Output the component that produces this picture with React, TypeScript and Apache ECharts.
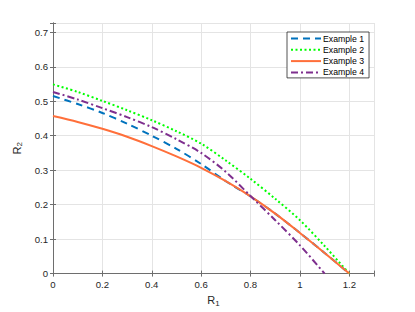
import React, { useEffect, useRef } from "react";
import * as echarts from "echarts";

const xValues = [0, 0.1, 0.2, 0.3, 0.4, 0.5, 0.6, 0.7, 0.8, 0.9, 1.0, 1.1, 1.2];
const example1 = [0.515, 0.492, 0.466, 0.435, 0.4, 0.362, 0.318, 0.268, 0.224, 0.174, 0.118, 0.06, 0];
const example2 = [0.549, 0.527, 0.501, 0.474, 0.445, 0.413, 0.377, 0.328, 0.275, 0.217, 0.155, 0.08, 0];
const example3 = [0.457, 0.44, 0.42, 0.397, 0.37, 0.34, 0.307, 0.268, 0.224, 0.174, 0.118, 0.06, 0];
const example4x = [0, 0.1, 0.2, 0.3, 0.4, 0.5, 0.6, 0.7, 0.8, 0.9, 1.0, 1.1];
const example4 = [0.527, 0.505, 0.48, 0.454, 0.425, 0.39, 0.35, 0.295, 0.225, 0.155, 0.082, 0];
const seriesNames = ["Example 1", "Example 2", "Example 3", "Example 4"];
const xTicks = { min: 0, max: 1.3, interval: 0.2 };
const yTicks = { min: 0, max: 0.727, interval: 0.1 };

const pairs = (xs: number[], ys: number[]) => xs.map((x, i) => [x, ys[i]]);

export default function App() {
  const ref = useRef<HTMLDivElement>(null);
  useEffect(() => {
    document.body.style.margin = "0";
    if (!ref.current) return;
    const chart = echarts.init(ref.current, null, { renderer: "svg" });
    const font = "'Liberation Sans', Arial, sans-serif";
    const axisColor = "#6e6e6e";
    const labelColor = "#262626";
    const yFmt = (v: number) =>
      Math.abs(v * 10 - Math.round(v * 10)) < 1e-6 ? String(Math.round(v * 10) / 10) : "";
    const xFmt = (v: number) =>
      Math.abs(v * 5 - Math.round(v * 5)) < 1e-6 ? String(Math.round(v * 10) / 10) : "";
    const nameRich = {
      a: { fontSize: 11, color: labelColor, fontFamily: font },
      b: { fontSize: 8, color: labelColor, fontFamily: font, padding: [6, 0, 0, 0] },
    };
    const baseX = {
      type: "value",
      min: xTicks.min,
      max: xTicks.max,
      interval: xTicks.interval,
      axisLine: { show: true, lineStyle: { color: axisColor, width: 1 } },
      axisTick: { show: true, inside: true, length: 3, lineStyle: { color: axisColor } },
    };
    const baseY = {
      type: "value",
      min: yTicks.min,
      max: yTicks.max,
      interval: yTicks.interval,
      axisLine: { show: true, lineStyle: { color: axisColor, width: 1 } },
      axisTick: { show: true, inside: true, length: 3, lineStyle: { color: axisColor } },
    };
    const colors = ["#0072BD", "#00FF00", "#FF6F3A", "#7E2F8E"];
    const dashes: any[] = [[7, 5], [2, 2.5], "solid", [7, 3, 2, 3]];
    const data = [
      pairs(xValues, example1),
      pairs(xValues, example2),
      pairs(xValues, example3),
      pairs(example4x, example4),
    ];
    chart.setOption({
      animation: false,
      grid: { left: 53, right: 41, top: 23, bottom: 37 },
      legend: {
        orient: "vertical",
        left: 287,
        top: 32,
        padding: [2, 5, 1, 3],
        itemGap: 2.3,
        itemWidth: 30,
        itemHeight: 10,
        backgroundColor: "#fff",
        borderColor: "#262626",
        borderWidth: 0.8,
        borderRadius: 0,
        itemStyle: { opacity: 0 },
        textStyle: { fontSize: 8.7, color: "#000", fontFamily: font, padding: [0, 0, 0, -3] },
        data: seriesNames,
      },
      xAxis: [
        {
          ...baseX,
          position: "bottom",
          name: "{a|R}{b|1}",
          nameLocation: "middle",
          nameGap: 19,
          nameTextStyle: { rich: nameRich },
          axisLabel: { color: labelColor, fontSize: 9.6, fontFamily: font, margin: 6, formatter: xFmt },
          splitLine: { show: true, lineStyle: { color: "#e4e4e4", width: 1 } },
        },
        {
          ...baseX,
          position: "top",
          axisLabel: { show: false },
          splitLine: { show: false },
        },
      ],
      yAxis: [
        {
          ...baseY,
          position: "left",
          name: "{a|R}{b|2}",
          nameLocation: "middle",
          nameGap: 23,
          nameTextStyle: { rich: nameRich },
          axisLabel: { color: labelColor, fontSize: 9.6, fontFamily: font, margin: 5, formatter: yFmt },
          splitLine: { show: true, lineStyle: { color: "#e4e4e4", width: 1 } },
        },
        {
          ...baseY,
          position: "right",
          axisLabel: { show: false },
          splitLine: { show: false },
        },
      ],
      series: seriesNames.map((n, i) => ({
        name: n,
        type: "line",
        xAxisIndex: 0,
        yAxisIndex: 0,
        data: data[i],
        smooth: 0.3,
        symbol: "none",
        color: colors[i],
        lineStyle: { color: colors[i], width: 2, type: dashes[i] },
      })),
    });
    return () => chart.dispose();
  }, []);
  return <div ref={ref} style={{ width: 415, height: 312 }} />;
}
